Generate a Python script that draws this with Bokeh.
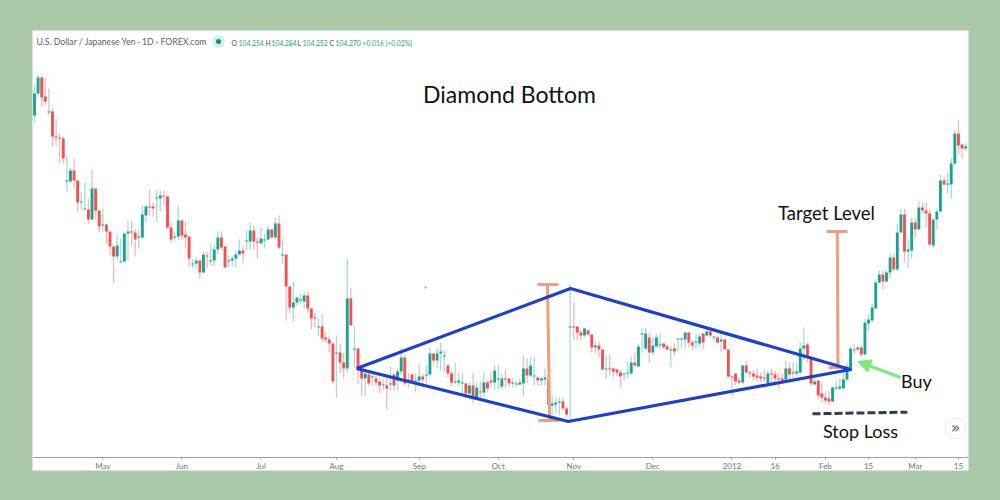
from bokeh.embed import file_html
from bokeh.resources import INLINE
from bokeh.plotting import figure
from bokeh.models import (ColumnDataSource, Range1d, LinearAxis, FixedTicker, Label,
                          Arrow, NormalHead)

opens = [385,407,423,404,388,389,364,363,362,319,
319,330,320,298,291,291,281,312,290,275,
276,269,254,244,238,239,267,269,268,263,
263,285,294,294,302,302,305,304,273,263,
264,280,266,264,236,237,240,228,245,239,
240,251,263,254,239,240,242,246,250,259,
259,270,259,257,260,261,271,263,277,245,
246,214,193,198,200,199,205,192,183,173,
174,163,161,157,147,148,138,132,202,151,
152,131,122,126,123,122,119,115,115,116,
126,120,129,143,119,126,119,120,124,125,
126,147,140,147,144,135,127,118,118,117,
117,107,115,102,109,108,118,120,118,121,
114,122,122,117,117,116,117,132,125,124,
123,120,121,121,95,96,98,99,92,173,
174,174,168,165,170,166,153,155,151,131,
132,132,131,128,126,127,127,138,134,166,
152,163,148,154,155,157,154,150,152,161,
161,161,168,158,158,157,167,165,169,163,
163,159,161,151,124,127,120,118,135,128,
127,125,124,123,117,127,126,122,122,121,
132,127,127,128,152,156,143,116,120,107,
103,102,99,112,112,112,121,130,151,151,
153,146,177,180,192,218,226,219,228,243,
231,268,286,249,250,278,271,293,290,287,
255,281,289,320,316,316,337,367,356,352]

highs = [416,426,424,422,412,393,382,367,364,345,
333,342,320,308,318,302,331,312,290,292,
277,269,254,266,262,267,280,280,271,271,
295,295,311,298,310,310,310,304,278,268,
295,280,279,264,242,243,240,249,249,257,
256,270,269,254,245,245,250,261,254,270,
278,275,263,273,267,275,272,283,285,262,
246,214,219,203,206,208,209,192,189,182,
187,168,164,158,165,157,148,242,213,175,
152,132,131,128,128,125,123,122,127,134,
127,132,153,145,128,127,127,137,127,135,
153,147,153,158,150,137,130,138,128,128,
118,118,128,118,120,128,120,128,136,136,
127,131,122,122,120,122,145,142,144,144,
125,124,132,123,105,104,103,103,93,216,
198,174,170,173,171,166,159,159,151,145,
146,133,132,130,127,139,144,148,157,172,
173,168,163,167,167,158,156,155,157,162,
163,168,168,160,167,167,167,171,171,165,
164,165,162,151,125,127,123,135,140,130,
130,132,128,130,130,132,130,128,127,140,
138,138,138,158,173,158,145,122,120,118,
108,110,114,120,122,131,138,154,156,155,
155,182,187,197,220,230,230,230,247,247,
277,292,292,261,282,282,299,299,298,291,
281,292,326,323,328,342,371,380,357,357]

lows = [378,403,393,395,385,354,355,337,337,309,
318,312,289,291,290,277,280,281,268,268,
257,245,218,240,238,238,240,255,244,252,
262,278,285,284,279,289,295,271,257,259,
260,261,252,234,232,232,222,227,232,235,
235,246,250,233,233,234,233,245,237,250,
250,251,242,257,252,260,263,262,251,237,
180,187,179,195,197,192,188,171,173,165,
159,158,148,118,103,127,122,128,175,133,
117,105,104,115,115,115,107,110,91,110,
110,110,125,115,113,117,108,117,113,117,
125,135,132,130,128,123,114,117,115,107,
105,101,97,101,100,102,108,115,111,111,
111,112,113,113,114,115,104,117,123,115,
115,115,115,92,85,87,85,90,83,79,
160,160,160,163,165,148,147,143,130,122,
125,124,124,113,120,122,126,134,134,148,
150,138,145,153,151,152,150,133,145,149,
152,151,153,150,152,153,151,164,163,160,
157,148,151,122,105,115,116,116,127,123,
120,120,118,119,116,115,118,112,118,120,
120,122,125,126,140,138,114,115,101,98,
97,95,98,110,110,111,119,129,146,149,
144,146,169,178,192,217,211,218,222,230,
230,268,238,233,242,262,271,287,273,254,
253,271,289,315,307,302,335,346,342,350]

closes = [407,423,403,399,389,364,363,362,342,320,
330,320,298,299,292,281,312,290,274,276,
269,254,244,255,239,267,269,268,261,264,
286,294,293,292,303,305,304,273,261,264,
280,265,263,242,237,240,228,246,244,240,
251,263,253,233,240,242,246,250,247,260,
270,259,258,262,261,271,263,277,253,246,
214,193,198,203,201,205,192,182,182,174,
162,161,157,119,148,138,132,202,175,152,
132,122,127,117,124,118,115,116,112,117,
115,129,143,117,121,118,120,124,121,126,
147,140,147,149,145,127,118,119,120,118,
107,115,104,113,108,118,112,118,130,122,
122,121,117,118,116,118,132,125,135,125,
120,122,123,96,97,98,99,92,86,174,
173,168,165,172,166,153,155,151,131,132,
131,129,128,124,127,128,138,135,154,167,
167,148,155,163,156,153,151,151,149,162,
162,168,158,155,159,164,158,169,165,164,
158,161,151,124,123,119,118,135,128,127,
124,123,122,122,127,126,122,121,120,132,
126,128,129,152,155,143,117,119,105,103,
100,99,113,113,114,121,130,152,150,153,
146,178,181,193,218,226,219,228,243,231,
268,286,249,251,278,271,293,290,287,256,
281,289,320,316,317,337,367,355,352,354]

tick_positions = [19, 41, 63, 84, 107, 129, 150, 172, 194, 206, 220, 232, 245, 257]
tick_labels = ["May", "Jun", "Jul", "Aug", "Sep", "Oct", "Nov", "Dec", "2012", "16", "Feb", "15", "Mar", "15"]

diamond_x = [89.6, 149.1, 227.0, 148.5, 89.6]
diamond_y = [132, 212, 131, 79, 132]
height_bars_x = [[139.9, 145.8], [142.7, 143.3], [140.2, 146.0], [220.3, 226.1], [223.3, 223.5], [220.9, 226.4]]
height_bars_y = [[216, 216], [216, 80], [80, 80], [269, 269], [269, 133], [133, 133]]
stop_x = [216.4, 242.8]
stop_y = [86.7, 88.3]
buy_arrow = (241.0, 123.0, 229.0, 139.0)

GREEN_BG = "#abc8aa"
UP, DOWN = "#1ba392", "#f4504f"
UP_WICK, DOWN_WICK = "#a6dcd5", "#f9b6b5"

index = list(range(len(opens)))
rising = [c >= o for o, c in zip(opens, closes)]
source = ColumnDataSource(dict(
    x=index, top=[max(o, c) for o, c in zip(opens, closes)],
    bottom=[min(o, c) for o, c in zip(opens, closes)],
    high=highs, low=lows,
    body=[UP if r else DOWN for r in rising],
    wick=[UP_WICK if r else DOWN_WICK for r in rising],
))

X0, XSTEP = 34.0, 3.595
def x_at(px):
    return (px - X0) / XSTEP
def y_at(py):
    return 500 - py

p = figure(width=1000, height=500, output_backend="svg", toolbar_location=None,
           x_range=Range1d(x_at(32), x_at(968)), y_range=Range1d(30, 470),
           x_axis_location=None, y_axis_location=None,
           min_border_left=32, min_border_right=32, min_border_top=30, min_border_bottom=30,
           border_fill_color=GREEN_BG, background_fill_color="white", outline_line_color=None)
p.grid.visible = False

p.segment("x", "low", "x", "high", source=source, line_color="wick", line_width=1.3)
p.vbar("x", 0.8, "bottom", "top", source=source, fill_color="body", line_color=None)

axis = LinearAxis(fixed_location=y_at(457), ticker=FixedTicker(ticks=tick_positions),
                  major_label_overrides={t: l for t, l in zip(tick_positions, tick_labels)},
                  axis_line_color="#9aa0a6", axis_line_width=1.2,
                  major_tick_line_color="#9aa0a6", major_tick_in=0, major_tick_out=2,
                  minor_tick_line_color=None, major_label_standoff=1,
                  major_label_text_font="Lato", major_label_text_font_size="8px",
                  major_label_text_color="#6d7480")
p.add_layout(axis, "below")

p.multi_line(height_bars_x, height_bars_y, line_color="#ef9f7c", line_width=3)
p.line(diamond_x, diamond_y, line_color="#1c3fd0", line_width=3.2, line_join="round")
p.line(stop_x, stop_y, line_color="#2e3a52", line_width=3, line_dash=[8, 3])
p.add_layout(Arrow(end=NormalHead(size=13, fill_color="#7ee87c", line_color="#7ee87c"),
                   x_start=buy_arrow[0], y_start=buy_arrow[1], x_end=buy_arrow[2], y_end=buy_arrow[3],
                   line_color="#7ee87c", line_width=3))

p.scatter([x_at(218)], [y_at(41)], size=13, fill_color="#d8efec", line_color=None)
p.scatter([x_at(218)], [y_at(41)], size=5, fill_color="#0f9384", line_color=None)
p.scatter([x_at(955)], [y_at(428)], size=21, fill_color="white", line_color="#ececec")
p.scatter([x_at(425)], [y_at(287)], size=2, fill_color="#8fa0e0", line_color=None)

def text(px, py, s, size, color, font, align="left"):
    p.add_layout(Label(x=x_at(px), y=y_at(py), text=s, text_font=font, text_font_size=size,
                       text_color=color, text_align=align, text_baseline="middle"))

BIG = "Lato"
text(509, 93, "Diamond Bottom", "23px", "#111111", BIG, "center")
text(826, 212, "Target Level", "18.5px", "#111111", BIG, "center")
text(916, 380, "Buy", "18px", "#111111", BIG, "center")
text(860, 430, "Stop Loss", "18px", "#111111", BIG, "center")
text(955, 427, "»", "15px", "#555555", "DejaVu Sans", "center")

text(36, 41, "U.S. Dollar / Japanese Yen · 1D · FOREX.com", "8.7px", "#5a6068", "Lato")
for px, s, col in [(231, "O", "#555555"), (238, "104.254", UP), (265, "H", "#555555"),
                   (271, "104.284", UP), (297, "L", "#555555"), (302, "104.252", UP),
                   (329, "C", "#555555"), (335, "104.270", UP), (362, "+0.016 (+0.02%)", UP)]:
    text(px, 42, s, "6.8px", col, "Lato")

template = """{% block postamble %}<style>html,body{background:#abc8aa;margin:0;padding:0;overflow:hidden;}</style>{% endblock %}"""
open("out.html", "w").write(file_html(p, INLINE, template=template))
